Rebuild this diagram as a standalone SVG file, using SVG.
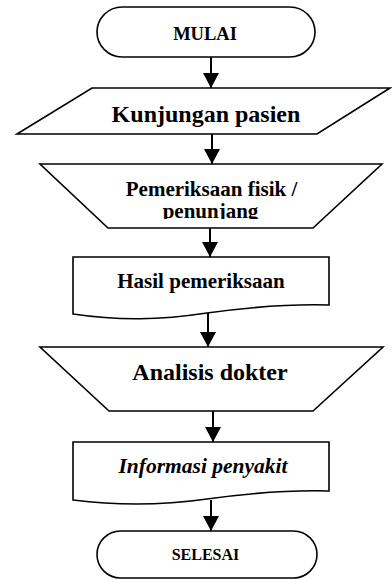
<svg xmlns="http://www.w3.org/2000/svg" width="392" height="580" viewBox="0 0 392 580">
<style>
.shape{fill:#fff;stroke:#000;stroke-width:1.6}
.t{font-family:"Liberation Serif","Times New Roman",serif;font-weight:bold;fill:#000;text-anchor:middle}
.conn{stroke:#000;stroke-width:2;fill:none}
</style>
<defs>
<marker id="arr" markerUnits="userSpaceOnUse" markerWidth="18" markerHeight="16" refX="15" refY="8" orient="auto">
<path d="M0,0 L15,8 L0,16 Z" fill="#000"/>
</marker>
<clipPath id="clipP"><rect x="0" y="164" width="392" height="55"/></clipPath>
</defs>
<rect width="392" height="580" fill="#fff"/>
<g id="mulai">
<rect class="shape" x="97" y="7" width="218" height="50" rx="25" ry="25"/>
<text class="t" x="205" y="40" font-size="18.5">MULAI</text>
</g>
<g id="kunjungan">
<polygon class="shape" points="92,88 390,88 317,134 17,134"/>
<text class="t" x="206" y="122" font-size="24">Kunjungan pasien</text>
</g>
<g id="pemeriksaan">
<polygon class="shape" points="40,164 382,164 313,228 108,228"/>
<g clip-path="url(#clipP)">
<text class="t" x="211.5" y="196" font-size="21">Pemeriksaan fisik /</text>
<text class="t" x="210.5" y="218" font-size="21">penunjang</text>
</g>
</g>
<g id="hasil">
<path class="shape" d="M73,257 L329,257 L329,305 C290,304 250,307 207,313 C160,320 120,321 73,314 Z"/>
<text class="t" x="201" y="288" font-size="21">Hasil pemeriksaan</text>
</g>
<g id="analisis">
<polygon class="shape" points="40,347 383,347 313,411 109,411"/>
<text class="t" x="210" y="380" font-size="24">Analisis dokter</text>
</g>
<g id="informasi">
<path class="shape" d="M73,442 L329,442 L329,491 C290,490 250,493 207,499 C165,505 120,506 73,500 Z"/>
<text class="t" x="203" y="473" font-size="21.5" font-style="italic">Informasi penyakit</text>
</g>
<g id="selesai">
<rect class="shape" x="97" y="531" width="220" height="47" rx="23.5" ry="23.5"/>
<text class="t" x="205.5" y="560" font-size="16">SELESAI</text>
</g>
<g id="connectors">
<line class="conn" x1="211" y1="57" x2="211" y2="88" marker-end="url(#arr)"/>
<line class="conn" x1="212" y1="134" x2="212" y2="164" marker-end="url(#arr)"/>
<line class="conn" x1="210" y1="228" x2="210" y2="257" marker-end="url(#arr)"/>
<line class="conn" x1="208" y1="313" x2="208" y2="347" marker-end="url(#arr)"/>
<line class="conn" x1="213" y1="411" x2="213" y2="442" marker-end="url(#arr)"/>
<line class="conn" x1="211" y1="500" x2="211" y2="531" marker-end="url(#arr)"/>
</g>
</svg>
